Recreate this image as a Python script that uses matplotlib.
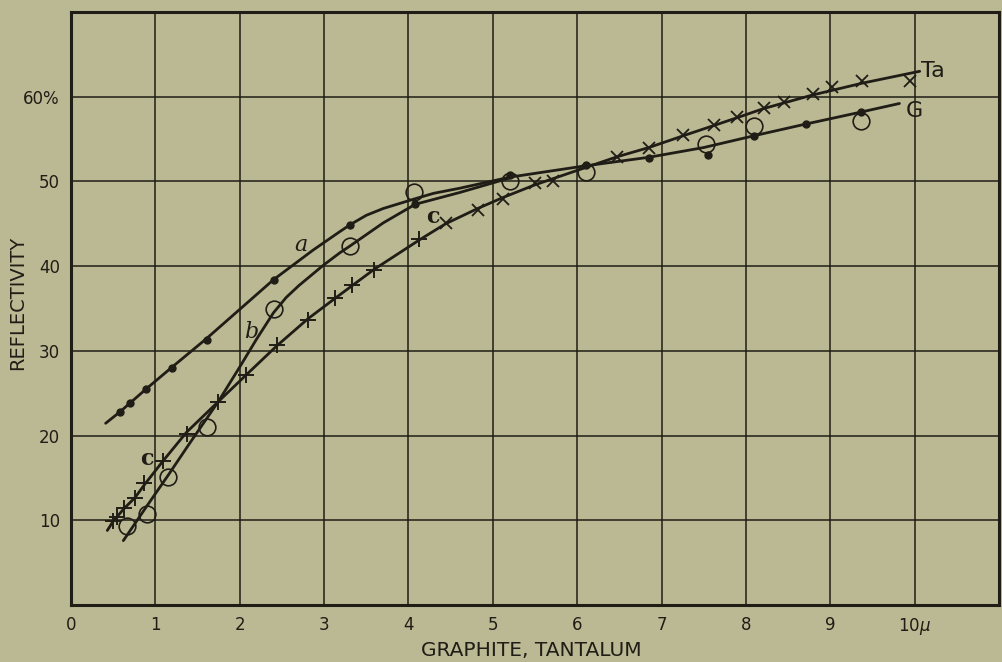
import matplotlib
matplotlib.use("Agg")
import matplotlib.pyplot as plt

# --- data ----------------------------------------------------------------
# filled dots (graphite, curve a / G)
dot_x = [0.58, 0.70, 0.89, 1.20, 1.615, 2.40, 3.31, 4.08, 5.20, 6.10, 6.85, 7.55, 8.10, 8.71, 9.37]
dot_y = [22.75, 23.9, 25.5, 28.0, 31.3, 38.4, 44.9, 47.3, 50.8, 51.9, 52.8, 53.1, 55.4, 56.75, 58.2]

# open circles (curve b)
circ_x = [0.66, 0.90, 1.15, 1.615, 2.40, 3.31, 4.06, 5.20, 6.10, 7.53, 8.10, 9.37]
circ_y = [9.3, 10.7, 15.15, 21.05, 34.9, 42.4, 48.8, 50.0, 51.1, 54.4, 56.6, 57.1]

# upright crosses (curve c, lower part)
plus_x = [0.50, 0.55, 0.63, 0.76, 0.865, 1.09, 1.37, 1.745, 2.07, 2.44, 2.81, 3.13, 3.33, 3.59, 4.13]
plus_y = [9.9, 10.4, 11.4, 12.6, 14.4, 17.0, 20.2, 24.0, 27.1, 30.7, 33.7, 36.2, 37.8, 39.6, 43.2]

# slanted crosses (curve c / Ta, upper part)
xx_x = [4.44, 4.82, 5.12, 5.50, 5.71, 6.47, 6.85, 7.26, 7.62, 7.89, 8.21, 8.45, 8.79, 9.02, 9.38, 9.94]
xx_y = [45.1, 46.6, 47.9, 49.8, 50.06, 52.9, 54.0, 55.5, 56.7, 57.65, 58.7, 59.4, 60.3, 61.1, 61.8, 61.8]

# drawn curves
a_x = [0.41, 0.58, 0.89, 1.2, 1.6, 2.0, 2.4, 2.87, 3.19, 3.31, 3.5, 3.7, 4.06, 4.3, 4.61, 5.2, 5.6, 6.07,
       6.85, 7.5, 8.1, 8.7, 9.37, 9.82]
a_y = [21.45, 22.8, 25.5, 28.1, 31.4, 34.9, 38.4, 41.9, 44.1, 44.9, 46.0, 46.8, 47.9, 48.6, 49.2, 50.5, 51.1, 51.8,
       52.85, 54.0, 55.4, 56.75, 58.2, 59.2]

b_x = [0.62, 0.9, 1.15, 1.4, 1.6, 1.745, 2.0, 2.2, 2.4, 2.55, 2.7, 2.99, 3.19, 3.31, 3.7, 4.08, 4.61, 5.2]
b_y = [7.6, 11.7, 15.3, 19.0, 21.9, 24.0, 28.1, 31.4, 34.5, 36.3, 37.7, 40.1, 41.6, 42.4, 45.1, 47.3, 48.7, 50.4]

c_x = [0.43, 0.50, 0.63, 0.76, 0.87, 1.09, 1.37, 1.745, 2.07, 2.44, 2.81, 3.13, 3.59, 4.13, 4.44,
       4.82, 5.12, 5.5, 6.0, 6.47, 6.85, 7.26, 7.62, 7.89, 8.21, 8.79, 9.38, 10.06]
c_y = [8.8, 9.9, 11.4, 12.7, 14.2, 17.0, 20.4, 24.0, 27.1, 30.6, 33.8, 36.2, 39.6, 43.1, 45.0,
       46.8, 48.1, 49.6, 51.3, 52.9, 54.0, 55.4, 56.6, 57.5, 58.6, 60.2, 61.6, 63.0]

x_ticks = [0, 1, 2, 3, 4, 5, 6, 7, 8, 9, 10]
x_tick_labels = ['0', '1', '2', '3', '4', '5', '6', '7', '8', '9', r'10$\mu$']
y_ticks = [10, 20, 30, 40, 50, 60]
y_tick_labels = ['10', '20', '30', '40', '50', '60%']

bg = '#bbb894'
ink = '#1f1d15'

fig = plt.figure(figsize=(10.02, 6.62), dpi=100, facecolor=bg)
ax = fig.add_axes([0.0709, 0.0861, 0.9261, 0.8958], facecolor=bg)

ax.set_xlim(0, 11)
ax.set_ylim(0, 70)
ax.set_xticks(x_ticks)
ax.set_xticklabels(x_tick_labels)
ax.set_yticks(y_ticks)
ax.set_yticklabels(y_tick_labels)
ax.grid(True, which='major', color=ink, linewidth=1.1)
ax.tick_params(which='both', length=0, labelsize=12, colors=ink, pad=8)
ax.set_axisbelow(True)
for s in ax.spines.values():
    s.set_color(ink)
    s.set_linewidth(2.2)

# curves
for cx, cy in [(a_x, a_y), (b_x, b_y), (c_x, c_y)]:
    ax.plot(cx, cy, color=ink, linewidth=2.0, solid_capstyle='round', zorder=3)

# markers
ax.plot(dot_x, dot_y, 'o', color=ink, markersize=5, zorder=4)
ax.plot(circ_x, circ_y, 'o', markerfacecolor='none', markeredgecolor=ink,
        markeredgewidth=1.2, markersize=12, zorder=4)
ax.plot(plus_x, plus_y, '+', color=ink, markersize=12, markeredgewidth=1.4, zorder=4)
ax.plot(xx_x, xx_y, 'x', color=ink, markersize=8, markeredgewidth=1.3, zorder=4)

# curve labels
ax.text(2.73, 42.5, 'a', fontsize=16, style='italic', family='DejaVu Serif', color=ink,
        ha='center', va='center')
ax.text(2.13, 32.2, 'b', fontsize=16, style='italic', family='DejaVu Serif', color=ink,
        ha='center', va='center')
ax.text(4.29, 45.8, 'c', fontsize=16, fontweight='bold', family='DejaVu Serif', color=ink,
        ha='center', va='center')
ax.text(0.90, 17.2, 'c', fontsize=16, fontweight='bold', family='DejaVu Serif', color=ink,
        ha='center', va='center')
ax.text(10.08, 63.0, 'Ta', fontsize=16, color=ink, ha='left', va='center')
ax.text(9.9, 58.3, 'G', fontsize=16, color=ink, ha='left', va='center')

ax.set_ylabel('REFLECTIVITY', fontsize=14, color=ink)
ax.set_xlabel('GRAPHITE, TANTALUM', fontsize=14.5, color=ink)
ax.yaxis.set_label_coords(-0.058, 0.509)
ax.xaxis.set_label_coords(0.496, -0.076)
ax.xaxis.label.set_va('center')
ax.yaxis.label.set_va('center')

fig.savefig('out.png', dpi=100, facecolor=bg)
